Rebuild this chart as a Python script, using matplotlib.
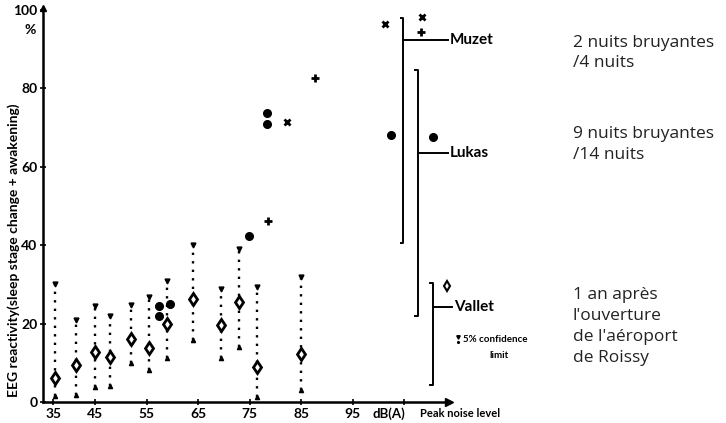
import numpy as np
import matplotlib.pyplot as plt

# Vallet: mean reactivity with 5% confidence limits
vallet_db = [35.5, 40.5, 45, 48, 52, 55.5, 59, 64, 69.5, 73, 76.5, 85]
vallet_pct = [6, 9.5, 12.8, 11.6, 16, 13.8, 20, 26.3, 19.7, 25.5, 9, 12.2]
ci_low = [1.5, 1.8, 3.8, 4, 10, 8.2, 11.2, 15.8, 11.2, 14, 1.3, 3]
ci_high = [30, 21, 24.5, 22, 24.7, 26.8, 30.9, 40, 28.8, 39, 29.3, 32]

# Lukas (filled circles)
lukas_db = [57.4, 57.4, 59.6, 74.9, 78.4, 78.4, 102.4, 110.6]
lukas_pct = [24.5, 22, 25, 42.3, 73.7, 70.9, 68.1, 67.6]

# Muzet (x and + marks)
muzet_x_db = [82.3, 101.2, 108.5]
muzet_x_pct = [71.4, 96.4, 98.2]
muzet_p_db = [78.6, 87.7, 108.3]
muzet_p_pct = [46.2, 82.7, 94.4]

xticks = [35, 45, 55, 65, 75, 85, 95]
yticks = [0, 20, 40, 60, 80, 100]

# study brackets: (name, x, y bottom, y top, y of label, end of label line)
brackets = [("Muzet", 104.8, 40.6, 98, 92.3, 113.5),
            ("Lukas", 107.7, 21.9, 84.7, 63.5, 113.5),
            ("Vallet", 110.6, 4.3, 30.4, 24.2, 114.3)]
# french notes: (y centre in figure pixels, text)
notes = [(53, "2 nuits bruyantes\n/4 nuits"),
         (144.5, "9 nuits bruyantes\n/14 nuits"),
         (326.5, "1 an après\nl'ouverture\nde l'aéroport\nde Roissy")]


# the original x axis is squeezed below 45 dB
def fwd(x):
    x = np.asarray(x, dtype=float)
    return np.where(x < 45, 45 - (45 - x) * 0.815, x)


def inv(u):
    u = np.asarray(u, dtype=float)
    return np.where(u < 45, 45 - (45 - u) / 0.815, u)


plt.rcParams['font.family'] = ['Lato', 'DejaVu Sans']
fig = plt.figure(figsize=(7.26, 4.23), dpi=100)
ax = fig.add_axes([0.0592, 0.0496, 0.5592, 0.9314])
ax.set_xscale('function', functions=(fwd, inv))
ax.set_xlim(32.6, 113.7)
ax.set_ylim(0, 100.5)

# confidence limits
ax.vlines(vallet_db, ci_low, ci_high, colors='k', linestyles=(0, (1, 2.6)), lw=1.7)
ax.plot(vallet_db, ci_high, 'v', ms=3.5, color='k')
ax.plot(vallet_db, ci_low, '^', ms=3, color='k')
ax.plot(vallet_db, vallet_pct, 'd', ms=6.5, mfc='white', mec='k', mew=2)

ax.plot(lukas_db, lukas_pct, 'o', ms=5.5, color='k', clip_on=False)
ax.plot(muzet_x_db, muzet_x_pct, 'x', ms=4.5, mew=2, color='k', clip_on=False)
ax.plot(muzet_p_db, muzet_p_pct, '+', ms=5.5, mew=2, color='k', clip_on=False)

# brackets with study names
for name, x, y0, y1, ym, xe in brackets:
    ax.plot([x - 0.5, x, x, x - 0.5], [y0, y0, y1, y1], color='k', lw=1.4, clip_on=False)
    ax.plot([x, xe], [ym, ym], color='k', lw=1.4, clip_on=False)
    ax.text(xe + 0.3, ym, name, fontsize=11, fontweight='bold', va='center', ha='left')

# Vallet symbol and confidence limit key
ax.plot([113.3], [29.6], 'd', ms=5, mfc='white', mec='k', mew=1.5, clip_on=False)
ax.plot([115.4], [16.6], 'v', ms=2.5, color='k', clip_on=False)
ax.plot([115.4], [15.2], '.', ms=2.5, color='k', clip_on=False)
ax.text(116.5, 15.9, "5% confidence", fontsize=7, fontweight='bold', va='center', ha='left')
ax.text(121.5, 11.9, "limit", fontsize=7, fontweight='bold', va='center', ha='left')

for y, txt in notes:
    fig.text(573 / 726, 1 - y / 423, txt, fontsize=12.5, color='#222222', va='center',
             ha='left', linespacing=1.4, family=['Open Sans', 'DejaVu Sans'])

# axes styling
for s in ['top', 'right']:
    ax.spines[s].set_visible(False)
for s in ['left', 'bottom']:
    ax.spines[s].set_linewidth(1.8)
ax.plot(1, 0, '>k', ms=6, transform=ax.transAxes, clip_on=False)
ax.plot(0, 1, '^k', ms=5, transform=ax.transAxes, clip_on=False)

ax.set_xticks(xticks + [105])
ax.set_xticklabels([str(t) for t in xticks] + [''])
ax.set_yticks(yticks)
ax.tick_params(axis='both', direction='inout', length=4, width=1.2, labelsize=10, pad=2)
for lab in ax.get_xticklabels() + ax.get_yticklabels():
    lab.set_fontweight('bold')

ax.text(98.8, -2.9, "dB(A)", fontsize=9.5, fontweight='bold', va='center', ha='left')
ax.text(108.1, -3.0, "Peak noise level", fontsize=8, fontweight='bold', va='center', ha='left')
fig.text(30 / 726, 1 - 30 / 423, "%", fontsize=10, fontweight='bold', ha='center', va='center')
fig.text(14 / 726, 1 - 250 / 423, "EEG reactivity(sleep stage change + awakening)",
         fontsize=10, fontweight='bold', rotation=90, ha='center', va='center')

fig.savefig('out.png', dpi=100)
